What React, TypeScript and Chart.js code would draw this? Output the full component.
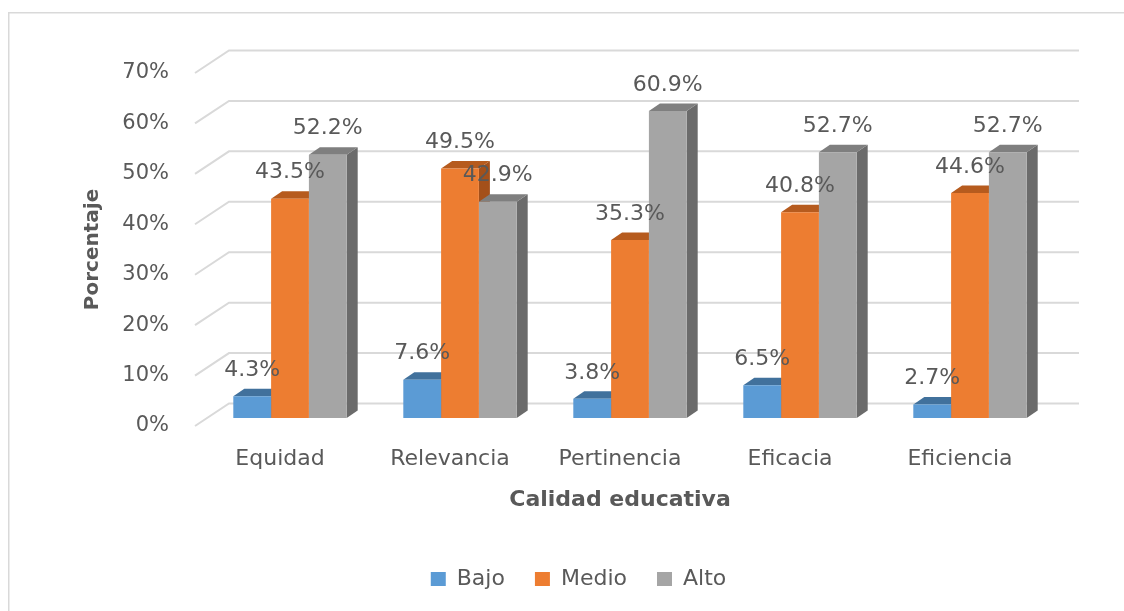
import React, { useEffect, useRef } from 'react';
import { Chart, registerables } from 'chart.js';

Chart.register(...registerables);

const categories = ['Equidad', 'Relevancia', 'Pertinencia', 'Eficacia', 'Eficiencia'];
const seriesNames = ['Bajo', 'Medio', 'Alto'];
const bajo = [4.3, 7.6, 3.8, 6.5, 2.7];
const medio = [43.5, 49.5, 35.3, 40.8, 44.6];
const alto = [52.2, 42.9, 60.9, 52.7, 52.7];
const yTicks = [0, 10, 20, 30, 40, 50, 60, 70];

const frontColors = ['#5B9BD5', '#ED7D31', '#A5A5A5'];
const topColors = ['#41719C', '#B65B1E', '#7F7F7F'];
const sideColors = ['#355F86', '#A4501A', '#6B6B6B'];

const FONT = '"DejaVu Sans", sans-serif';
const TEXT = '#595959';
const GRID = '#D9D9D9';

// 3D geometry (pixels)
const WALL_DX = 34;
const WALL_DY = -22.5;
const BAR_DX = 10;
const BAR_DY = -8;
const DEPTH_DX = 11;
const DEPTH_DY = -7.5;

const threeD = {
  id: 'threeD',
  beforeDraw(chart: any) {
    const ctx = chart.ctx;
    ctx.save();
    ctx.strokeStyle = GRID;
    ctx.lineWidth = 1.5;
    ctx.strokeRect(8.75, 12.75, 1300, 800);
    ctx.restore();
  },
  beforeDatasetsDraw(chart: any) {
    const ctx = chart.ctx;
    const area = chart.chartArea;
    const ys = chart.scales.y;
    ctx.save();
    ctx.strokeStyle = GRID;
    ctx.lineWidth = 2;
    yTicks.forEach((t) => {
      const py = ys.getPixelForValue(t);
      ctx.beginPath();
      ctx.moveTo(area.left, py);
      ctx.lineTo(area.left + WALL_DX, py + WALL_DY);
      ctx.lineTo(area.right + WALL_DX, py + WALL_DY);
      ctx.stroke();
    });
    ctx.restore();

    ctx.save();
    for (let i = 0; i < categories.length; i++) {
      for (let d = 0; d < chart.data.datasets.length; d++) {
        const el = chart.getDatasetMeta(d).data[i];
        if (!el) continue;
        const p = el.getProps(['x', 'y', 'base', 'width'], true);
        const l = p.x - p.width / 2 + BAR_DX;
        const r = p.x + p.width / 2 + BAR_DX;
        const t = p.y + BAR_DY;
        const b = p.base + BAR_DY;
        ctx.fillStyle = sideColors[d];
        ctx.beginPath();
        ctx.moveTo(r, t);
        ctx.lineTo(r + DEPTH_DX, t + DEPTH_DY);
        ctx.lineTo(r + DEPTH_DX, b + DEPTH_DY);
        ctx.lineTo(r, b);
        ctx.closePath();
        ctx.fill();
        ctx.fillStyle = topColors[d];
        ctx.beginPath();
        ctx.moveTo(l, t);
        ctx.lineTo(l + DEPTH_DX, t + DEPTH_DY);
        ctx.lineTo(r + DEPTH_DX, t + DEPTH_DY);
        ctx.lineTo(r, t);
        ctx.closePath();
        ctx.fill();
      }
    }
    ctx.restore();
    ctx.save();
    ctx.translate(BAR_DX, BAR_DY);
  },
  afterDatasetsDraw(chart: any) {
    const ctx = chart.ctx;
    ctx.restore();
    ctx.save();
    ctx.fillStyle = TEXT;
    ctx.font = `22px ${FONT}`;
    ctx.textAlign = 'center';
    ctx.textBaseline = 'middle';
    chart.data.datasets.forEach((ds: any, d: number) => {
      chart.getDatasetMeta(d).data.forEach((el: any, i: number) => {
        const p = el.getProps(['x', 'y'], true);
        ctx.fillText(`${ds.data[i].toFixed(1)}%`, p.x + BAR_DX, p.y + BAR_DY - 26);
      });
    });
    ctx.restore();
  },
};

export default function App() {
  const ref = useRef<HTMLCanvasElement>(null);
  useEffect(() => {
    document.body.style.margin = '0';
    const chart = new Chart(ref.current as HTMLCanvasElement, {
      type: 'bar',
      data: {
        labels: categories,
        datasets: [bajo, medio, alto].map((vals, d) => ({
          label: seriesNames[d],
          data: vals,
          backgroundColor: frontColors[d],
          borderWidth: 0,
          categoryPercentage: 0.667,
          barPercentage: 1,
          clip: false as any,
        })),
      },
      options: {
        animation: false,
        responsive: true,
        maintainAspectRatio: false,
        layout: { padding: { left: 60, right: 27, top: 73, bottom: 11 } },
        plugins: {
          tooltip: { enabled: false },
          legend: {
            position: 'bottom',
            labels: {
              boxWidth: 15,
              boxHeight: 14,
              padding: 30,
              color: TEXT,
              font: { family: FONT, size: 22 },
            },
          },
        },
        scales: {
          x: {
            grid: { display: false, drawTicks: false },
            border: { display: false },
            ticks: {
              color: TEXT,
              font: { family: FONT, size: 22 },
              padding: 20,
              maxRotation: 0,
              autoSkip: false,
            },
            title: {
              display: true,
              text: 'Calidad educativa',
              color: TEXT,
              font: { family: FONT, size: 22, weight: 'bold' },
              padding: { top: 0, bottom: 25 },
            },
            afterFit: (s: any) => {
              s.height = 112;
            },
          },
          y: {
            min: 0,
            max: 70,
            grid: { display: false, drawTicks: false },
            border: { display: false },
            afterBuildTicks: (s: any) => {
              s.ticks = yTicks.map((v) => ({ value: v }));
            },
            ticks: {
              color: TEXT,
              font: { family: FONT, size: 21 },
              padding: 26,
              callback: (v: any) => `${v}%`,
            },
            title: {
              display: true,
              text: 'Porcentaje',
              color: TEXT,
              font: { family: FONT, size: 20, weight: 'bold' },
              padding: { top: 20.5, bottom: 0 },
            },
            afterFit: (s: any) => {
              s.width = 135;
            },
          },
          y2: {
            position: 'right',
            display: true,
            grid: { display: false, drawTicks: false },
            border: { display: false },
            ticks: { display: false },
            afterFit: (s: any) => {
              s.width = 52;
            },
          },
        },
      } as any,
      plugins: [threeD],
    });
    return () => chart.destroy();
  }, []);
  return (
    <div style={{ position: 'absolute', left: 0, top: 0, width: 1124, height: 611 }}>
      <canvas ref={ref} />
    </div>
  );
}
